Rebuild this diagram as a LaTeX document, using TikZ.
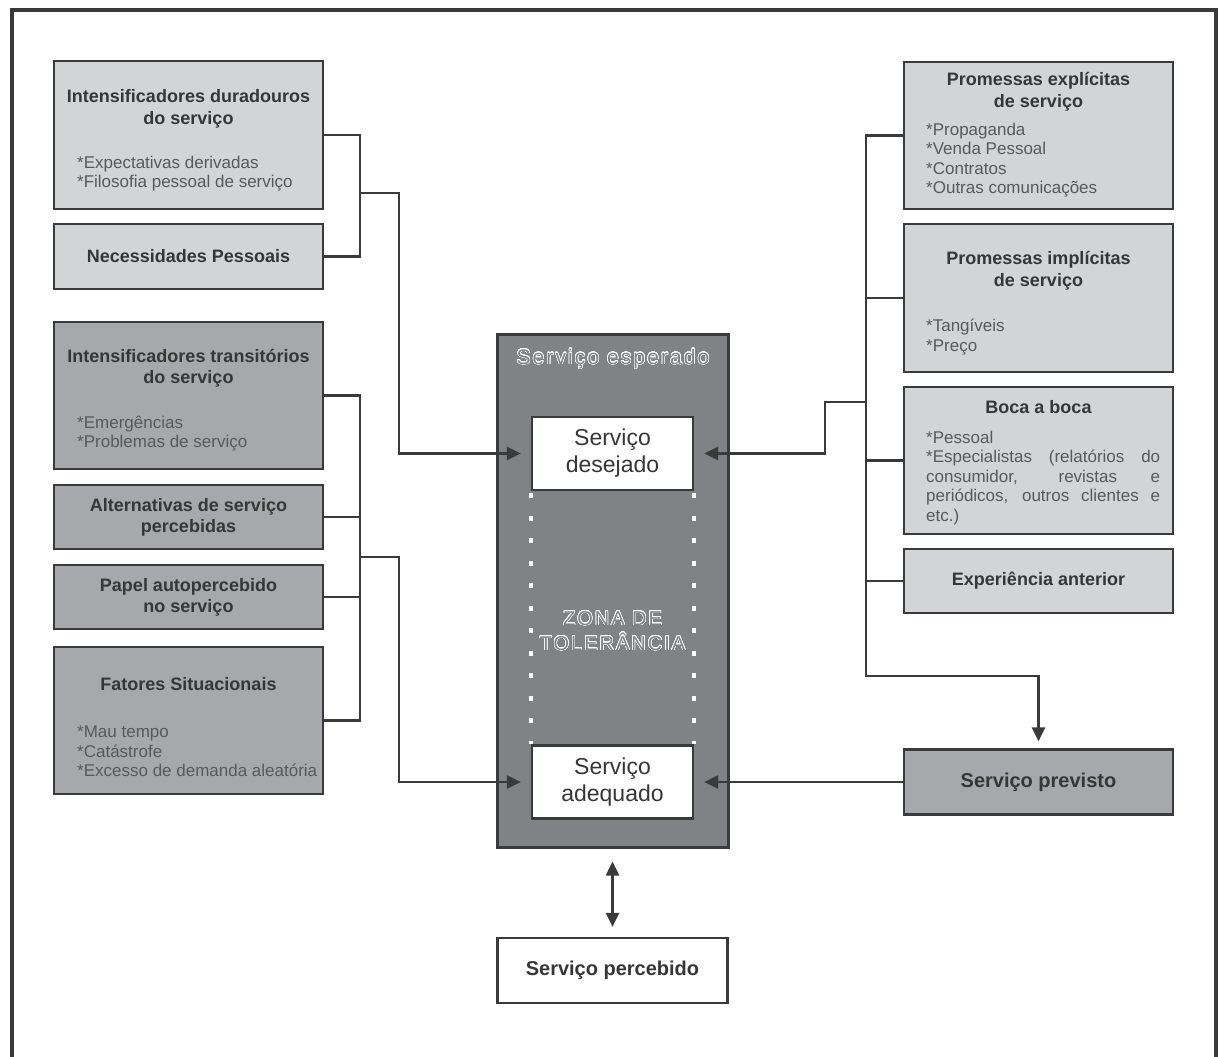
\documentclass[tikz,border=0pt]{standalone}
\usepackage{fontspec}
\setmainfont{Liberation Sans}
\newfontfamily\spacedfont[LetterSpace=10]{Liberation Sans}
\usepackage{contour}
\contourlength{0.55pt}
\contournumber{32}
\usetikzlibrary{arrows.meta}

\definecolor{boxlight}{HTML}{D3D4D6}
\definecolor{boxmid}{HTML}{A7A8AB}
\definecolor{boxdark}{HTML}{818285}
\definecolor{edge}{HTML}{3A3A3A}
\definecolor{titletext}{HTML}{363636}
\definecolor{itemtext}{HTML}{595959}

\tikzset{
  card/.style={draw=edge, line width=2.2pt, minimum width=269pt, inner sep=0pt},
  lightcard/.style={card, fill=boxlight},
  midcard/.style={card, fill=boxmid},
  whitecard/.style={draw=edge, line width=2.2pt, fill=white, inner sep=0pt},
  cardtext/.style={align=center, text=titletext, font=\fontsize{18}{21}\selectfont\bfseries},
  bigtext/.style={align=center, text=titletext, font=\fontsize{20}{24}\selectfont\bfseries},
  title/.style={inner sep=0pt, align=center, text=titletext, font=\fontsize{18}{21.5}\selectfont\bfseries},
  items/.style={inner sep=0pt, align=left, text=itemtext, font=\fontsize{17}{19.5}\selectfont, anchor=west},
  conn/.style={draw=edge, line width=2.5pt},
  tip/.style={-{Triangle[length=14pt,width=13pt]}},
  arr/.style={conn, tip, shorten >=10pt},
  outlined/.style={inner sep=0pt, align=center, text=boxdark},
}

\begin{document}
\begin{tikzpicture}[x=1pt, y=-1pt]
\useasboundingbox (0,0) rectangle (1219,1057);

% outer frame (open at the bottom)
\draw[line width=4pt, draw=edge] (11.5,1080) -- (11.5,10) -- (1215.5,10) -- (1215.5,1080);

% ---- left column ----
\node[lightcard, minimum height=148pt] (L1) at (188.5,135) {};
\node[title] (L1t) at (188.5,109) {Intensificadores duradouros\\do serviço};
\node[items] (L1i) at (77,173.5) {*Expectativas derivadas\\{}*Filosofia pessoal de serviço};

\node[lightcard, minimum height=65pt, cardtext] (L2) at (188.5,256.5) {Necessidades Pessoais};

\node[midcard, minimum height=147pt] (L3) at (188.5,395.5) {};
\node[title] (L3t) at (188.5,368.5) {Intensificadores transitórios\\do serviço};
\node[items] (L3i) at (77,433.5) {*Emergências\\{}*Problemas de serviço};

\node[midcard, minimum height=64pt, cardtext] (L4) at (188.5,517) {Alternativas de serviço\\percebidas};
\node[midcard, minimum height=64pt, cardtext] (L5) at (188.5,597) {Papel autopercebido\\no serviço};

\node[midcard, minimum height=147pt] (L6) at (188.5,720.5) {};
\node[title] (L6t) at (188.5,684) {Fatores Situacionais};
\node[items] (L6i) at (77,751.5) {*Mau tempo\\{}*Catástrofe\\{}*Excesso de demanda aleatória};

% ---- right column ----
\node[lightcard, minimum height=147pt] (R1) at (1038.5,135.5) {};
\node[title] (R1t) at (1038.5,92) {Promessas explícitas\\de serviço};
\node[items] (R1i) at (926,160) {*Propaganda\\{}*Venda Pessoal\\{}*Contratos\\{}*Outras comunicações};

\node[lightcard, minimum height=148pt] (R2) at (1038.5,298) {};
\node[title] (R2t) at (1038.5,271) {Promessas implícitas\\de serviço};
\node[items] (R2i) at (926,337) {*Tangíveis\\{}*Preço};

\node[lightcard, minimum height=147pt] (R3) at (1038.5,460.5) {};
\node[title] (R3t) at (1038.5,407) {Boca a boca};
\node[items, text width=234pt, align=justify] (R3i) at (926,478)
  {*Pessoal\\{}*Especialistas (relatórios do\linebreak consumidor, revistas e\linebreak periódicos, outros clientes e\linebreak etc.)};

\node[lightcard, minimum height=64pt, cardtext] (R4) at (1038.5,581) {Experiência anterior};
\node[midcard, minimum height=65pt, bigtext] (R5) at (1038.5,782) {Serviço previsto};

% ---- expected service block ----
\node[draw=edge, line width=3pt, fill=boxdark, minimum width=231pt, minimum height=513pt, inner sep=0pt] (esp) at (612.5,590.5) {};
\node[outlined, font=\spacedfont\fontsize{21}{24}\selectfont] (espt) at (613,359) {\contour{white}{Serviço esperado}};

\node[whitecard, minimum width=161pt, minimum height=73pt, align=center, text=titletext, font=\fontsize{23}{27}\selectfont] (des) at (612.5,453.5) {Serviço\\desejado};
\node[whitecard, minimum width=161pt, minimum height=73pt, align=center, text=titletext, font=\fontsize{23}{27}\selectfont] (ade) at (612.5,782) {Serviço\\adequado};

\draw[white, line width=3.5pt, dash pattern=on 5pt off 17.5pt] ([yshift=-2pt]des.south west) -- (ade.north west);
\draw[white, line width=3.5pt, dash pattern=on 5pt off 17.5pt] ([yshift=-2pt]des.south east) -- (ade.north east);

\node[outlined, font=\spacedfont\fontsize{20}{25}\selectfont] (zona) at (612.5,631)
  {\contour{white}{ZONA DE}\\\contour{white}{TOLERÂNCIA}};

\node[whitecard, minimum width=230pt, minimum height=65pt, bigtext] (perc) at (612.5,970.5) {Serviço percebido};

% ---- connectors, left ----
\coordinate (jA) at (360,193);
\coordinate (kA) at (399,193);
\draw[conn] (L1.east) -| (jA) |- (L2.east);
\draw[arr] (jA) -- (kA) |- (des.west);

\coordinate (jB) at (360,557);
\coordinate (kB) at (399,557);
\draw[conn] (L3.east) -| (jB) |- (L6.east);
\draw[conn] (L4.east) -- (L4.east -| jB);
\draw[conn] (L5.east) -- (L5.east -| jB);
\draw[arr] (jB) -- (kB) |- (ade.west);

% ---- connectors, right ----
\coordinate (jR) at (866,676);
\draw[conn, tip, shorten >=7pt] (R1.west) -| (jR) -| (R5.north);
\draw[conn] (R2.west) -- (R2.west -| jR);
\draw[conn] (R3.west) -- (R3.west -| jR);
\draw[conn] (R4.west) -- (R4.west -| jR);

\coordinate (jD) at (866,402);
\coordinate (kD) at (825,402);
\draw[arr] (jD) -- (kD) |- (des.east);
\draw[arr] (R5.west) -- (ade.east);

% ---- perceived service ----
\draw[conn, {Triangle[length=14pt,width=13pt]}-{Triangle[length=14pt,width=13pt]}, shorten <=13pt, shorten >=10pt] (esp.south) -- (perc.north);
\end{tikzpicture}
\end{document}
